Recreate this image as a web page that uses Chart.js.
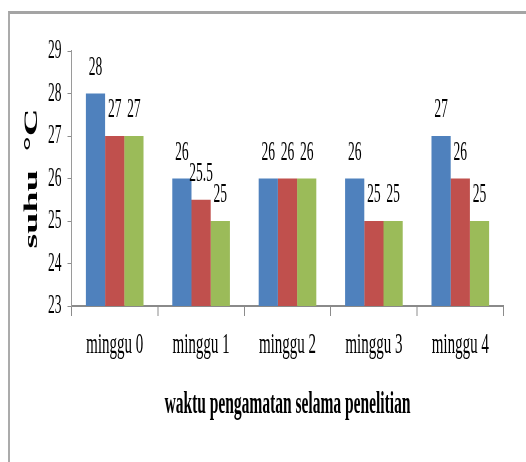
<!DOCTYPE html>
<html>
<head>
<meta charset="utf-8">
<title>suhu</title>
<script src="https://cdn.jsdelivr.net/npm/chart.js@4.4.0/dist/chart.umd.min.js"></script>
<style>
    html, body { margin: 0; padding: 0; background: #fff; overflow: hidden; }
    #frame {
        position: absolute; left: 8px; top: 11px; width: 600px; height: 500px;
        border-top: 3px solid #a4a4a4; border-left: 2px solid #ababab;
    }
    /* canvas is drawn twice as wide and squeezed back, like the narrow text in the picture */
    #suhuChart { position: absolute; left: 0; top: 0; width: 526px; height: 462px; }
</style>
</head>
<body>
<div id="frame"></div>
<canvas id="suhuChart" width="1052" height="462" style="width:526px;height:462px"></canvas>
<script>
var weeks = ['minggu 0', 'minggu 1', 'minggu 2', 'minggu 3', 'minggu 4'];
var seriesBlue = [28, 26, 26, 26, 27];
var seriesRed = [27, 25.5, 26, 25, 26];
var seriesGreen = [27, 25, 26, 25, 25];
var yMin = 23;
var yMax = 29;

var serif = "'Liberation Serif', 'Times New Roman', serif";

// values above each bar
var barLabels = {
    id: 'barLabels',
    afterDatasetsDraw: function (chart) {
        var ctx = chart.ctx;
        ctx.save();
        ctx.font = '27px ' + serif;
        ctx.fillStyle = '#000';
        ctx.textAlign = 'center';
        ctx.textBaseline = 'alphabetic';
        chart.data.datasets.forEach(function (ds, i) {
            chart.getDatasetMeta(i).data.forEach(function (bar, j) {
                ctx.fillText(String(ds.data[j]), bar.x, bar.y - 19);
            });
        });
        ctx.restore();
    }
};

new Chart(document.getElementById('suhuChart'), {
    type: 'bar',
    data: {
        labels: weeks,
        datasets: [
            { label: 'a', data: seriesBlue, backgroundColor: '#4f81bd' },
            { label: 'b', data: seriesRed, backgroundColor: '#c0504d' },
            { label: 'c', data: seriesGreen, backgroundColor: '#9bbb59' }
        ]
    },
    options: {
        responsive: false,
        devicePixelRatio: 1,
        animation: false,
        layout: { padding: { left: 0, right: 45, top: 51, bottom: 38 } },
        datasets: { bar: { barPercentage: 1, categoryPercentage: 0.667 } },
        plugins: {
            legend: { display: false },
            tooltip: { enabled: false }
        },
        scales: {
            x: {
                grid: { drawOnChartArea: false, drawTicks: true, tickLength: 10, color: '#8c8c8c', lineWidth: 2 },
                border: { color: '#8a8a8a', width: 2 },
                ticks: { color: '#000', padding: 11, font: { family: serif, size: 30 } },
                title: {
                    display: true,
                    text: 'waktu pengamatan selama penelitian',
                    color: '#000',
                    padding: { top: 0, bottom: 0 },
                    font: { family: serif, size: 31, weight: 'bold' }
                },
                afterFit: function (scale) { scale.height = 118; }
            },
            y: {
                min: yMin,
                max: yMax,
                beginAtZero: false,
                grid: { drawOnChartArea: false, drawTicks: true, tickLength: 8, color: '#8c8c8c', lineWidth: 1 },
                border: { color: '#9a9a9a', width: 2 },
                ticks: { stepSize: 1, color: '#000', padding: 12, font: { family: serif, size: 27 } },
                title: {
                    display: true,
                    text: 'suhu  °C',
                    color: '#000',
                    padding: { top: 41, bottom: 0 },
                    font: { family: serif, size: 38, weight: 'bold' }
                },
                afterFit: function (scale) { scale.width = 143; }
            }
        }
    },
    plugins: [barLabels]
});
</script>
</body>
</html>
